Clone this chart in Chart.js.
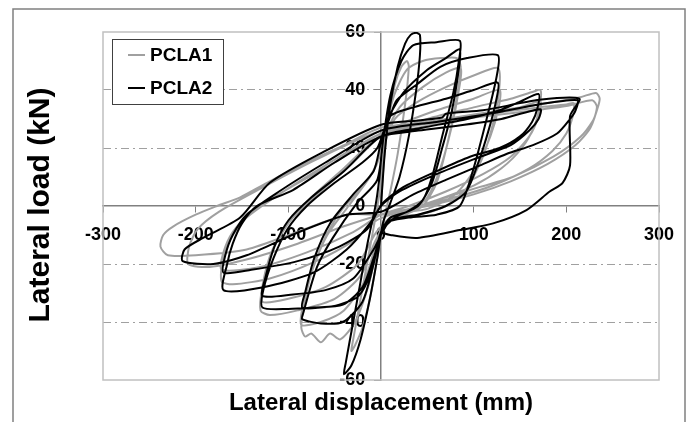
<!DOCTYPE html>
<html>
<head>
<meta charset="utf-8">
<script src="https://cdn.jsdelivr.net/npm/chart.js@4/dist/chart.umd.min.js"></script>
<style>
  html, body { margin: 0; padding: 0; background: #fff; }
  canvas { display: block; }
</style>
</head>
<body>
<canvas id="chart" width="695" height="422"></canvas>
<script>
// Axis ticks
const xTicks = [-300, -200, -100, 0, 100, 200, 300];
const yTicks = [-60, -40, -20, 0, 20, 40, 60];

// PCLA1 (grey) - [displacement mm, load kN]
const pcla1Cycle1 = [[0,0],[3,15],[8,30],[15,42],[22,48],[28,50],[30,48],[26,35],[18,18],[10,5],[3,-5],[-4,-18],[-12,-32],[-20,-42],[-28,-48],[-32,-50],[-30,-46],[-22,-32],[-14,-18],[-6,-4],[0,8]];
const pcla1Cycle2 = [[5,25],[14,38],[28,47],[45,50],[65,51],[82,51],[86,48],[82,38],[72,22],[60,8],[45,0],[25,-3],[8,-5],[-4,-15],[-14,-28],[-28,-40],[-44,-46],[-55,-44],[-65,-47],[-75,-44],[-82,-45],[-86,-42],[-84,-36],[-76,-24],[-62,-12],[-44,-2],[-22,6],[-5,14]];
const pcla1Cycle3 = [[4,24],[20,34],[45,41],[70,46],[86,47.5],[84,40],[76,27],[64,13],[50,3],[30,-2],[10,-4],[-4,-12],[-18,-26],[-40,-36],[-65,-40],[-86,-41],[-84,-34],[-74,-22],[-58,-10],[-35,0],[-12,10],[0,18]];
const pcla1Cycle4 = [[15,30],[40,36],[70,41],[100,45],[126,47.6],[128,42],[122,30],[110,17],[92,6],[70,0],[40,-3],[10,-4],[-6,-12],[-22,-24],[-50,-32],[-90,-36],[-120,-37.6],[-130,-36],[-128,-28],[-118,-16],[-100,-6],[-75,3],[-40,13],[-10,22]];
const pcla1Cycle5 = [[20,28],[60,33],[100,37],[128,40],[127,34],[118,24],[102,13],[80,4],[50,-1],[15,-3],[-5,-9],[-25,-20],[-60,-28],[-100,-32],[-128,-33],[-127,-26],[-117,-15],[-98,-5],[-65,5],[-30,15],[0,24]];
const pcla1Cycle6 = [[50,30],[100,34],[140,37],[165,39.5],[172,40],[172,36],[166,28],[152,20],[130,13],[100,7],[60,2],[20,-2],[-5,-5],[-30,-12],[-70,-19],[-120,-25],[-160,-27],[-172,-26],[-171,-19],[-162,-11],[-145,-4],[-110,4],[-60,14],[0,25]];
const pcla1Cycle7 = [[40,27],[100,31],[150,34],[172,36],[170,31],[160,24],[140,17],[110,11],[70,5],[30,0],[0,-3],[-30,-9],[-80,-16],[-130,-21],[-172,-22],[-170,-16],[-160,-9],[-140,-2],[-100,6],[-50,15],[0,25]];
const pcla1Cycle8 = [[60,29],[120,32],[170,34],[200,35],[208,35.5],[207,31],[200,25],[185,19],[160,13],[120,7],[80,3],[30,-1],[0,-3],[-40,-7],[-90,-13],[-140,-18],[-185,-21],[-208,-20],[-207,-14],[-198,-8],[-175,-2],[-130,6],[-70,16],[0,26]];
const pcla1Cycle9 = [[70,30],[130,33],[180,35.5],[215,37.5],[232,39],[236,37],[233,33],[229,29.6],[215,23.8],[186,17],[142,10],[107,6.6],[60,2],[20,-2],[0,-3],[-37,-3],[-91,-9],[-145,-15],[-200,-17],[-230,-17],[-238,-14],[-235,-10],[-224,-7],[-200,-3],[-177,0],[-152,3],[-123,8],[-80,15],[-40,21],[0,27]];
const pcla1Cycle10 = [[60,29],[140,32],[200,34.5],[228,36.5],[233,34],[226,27],[210,21],[180,14.5],[140,8.5],[100,4],[50,0],[0,-3]];

// PCLA2 (black)
const pcla2Cycle1 = [[0,0],[4,18],[10,35],[18,48],[26,56],[32,59],[38,59.7],[42,59],[42,52],[38,40],[30,24],[20,10],[10,1],[2,-6],[-4,-18],[-12,-32],[-22,-46],[-32,-55],[-40,-58],[-38,-54],[-30,-40],[-22,-26],[-14,-12],[-6,0],[-2,9]];
const pcla2Cycle2 = [[2,22],[10,38],[22,50],[35,55.5],[60,56.5],[85,57],[84,50],[78,39],[66,24],[55,10],[45,2],[28,-2],[10,-4],[0,-9],[-8,-20],[-20,-33],[-41,-40],[-65,-40.5],[-85,-39],[-84,-37],[-69,-21],[-52,-11],[-26,1],[-4,9]];
const pcla2Cycle3 = [[5,28],[24,39],[50,47],[70,51],[85,54],[83,45],[76,32],[66,20],[55,8],[40,0],[15,-4],[0,-9],[-10,-22],[-24,-31],[-45,-34],[-65,-35],[-85,-35],[-82,-30],[-72,-18],[-55,-6],[-30,4],[-8,12]];
const pcla2Cycle4 = [[0,22],[10,31],[17,36.5],[39,42],[64,48],[93,51],[126,52],[125,45],[114,30],[99,12],[85,0],[60,-3],[30,-4],[5,-6],[-8,-18],[-20,-28],[-41,-34],[-73,-35],[-100,-35.5],[-128,-35],[-127,-29],[-116,-18],[-101,-8],[-80,0],[-50,8],[-20,15],[-4,20]];
const pcla2Cycle5 = [[10,31],[35,34],[70,37],[100,40],[126,42.5],[124,36],[116,26],[105,15],[92,5],[70,0],[40,-3],[10,-5],[-8,-15],[-30,-25],[-60,-29],[-95,-30.5],[-128,-31],[-125,-25],[-115,-14],[-100,-5],[-75,3],[-40,12],[0,24]];
const pcla2Cycle6 = [[45,27],[93,30],[128,33],[150,36],[170,38.6],[169,34],[163,29],[150,24],[128,20],[96,17],[60,12],[24,6.5],[2,1],[-12,-6],[-37,-15],[-73,-23],[-127,-28],[-170,-29],[-166,-20],[-160,-13],[-150,-6],[-134,0],[-95,5.5],[-50,15],[0,24]];
const pcla2Cycle7 = [[40,26],[90,28],[130,30],[172,33.4],[170,30],[160,26],[140,21],[107,17],[60,11],[20,5],[0,0],[-15,-8],[-45,-14],[-90,-19],[-140,-22],[-170,-23],[-168,-17],[-160,-10],[-145,-3],[-110,5],[-60,15],[0,26]];
const pcla2Cycle8 = [[60,29],[120,32],[170,35],[212,36.5],[210,33],[204,30],[190,25],[164,21],[136,18],[107,14],[70,9],[35,4],[0,-2],[-37,-3],[-91,-9.3],[-145,-17],[-181,-20],[-214,-19],[-212,-15],[-192,-11],[-152,-4],[-120,8],[-60,19],[0,28],[40,29.5],[66,30.5],[70,31.8],[110,33],[171,36.6],[214,37],[204,31],[204,14],[196,8],[182,5],[157,-1.4],[121,-6],[85,-8.3],[39,-11],[10,-10],[-1,-9]];

const pcla1 = [pcla1Cycle1, pcla1Cycle2, pcla1Cycle3, pcla1Cycle4, pcla1Cycle5, pcla1Cycle6, pcla1Cycle7, pcla1Cycle8, pcla1Cycle9, pcla1Cycle10].flat();
const pcla2 = [pcla2Cycle1, pcla2Cycle2, pcla2Cycle3, pcla2Cycle4, pcla2Cycle5, pcla2Cycle6, pcla2Cycle7, pcla2Cycle8].flat();

const toPoints = arr => arr.map(p => ({ x: p[0], y: p[1] }));
const FONT = '"Liberation Sans", Arial, sans-serif';
const tickFont = { family: FONT, size: 18, weight: 'bold' };

// frames, legend box and axis titles
const decor = {
    id: 'decor',
    beforeDraw(chart) {
        const ctx = chart.ctx;
        ctx.save();
        ctx.fillStyle = '#fff';
        ctx.fillRect(0, 0, chart.width, chart.height);
        ctx.strokeStyle = '#808080';
        ctx.lineWidth = 1.5;
        ctx.beginPath();
        ctx.moveTo(13, chart.height);
        ctx.lineTo(13, 9);
        ctx.lineTo(685, 9);
        ctx.lineTo(685, chart.height);
        ctx.stroke();
        ctx.restore();
    },
    beforeDatasetsDraw(chart) {
        const { ctx, chartArea: a } = chart;
        ctx.save();
        ctx.strokeStyle = '#c0c0c0';
        ctx.lineWidth = 1.5;
        ctx.strokeRect(a.left, a.top, a.right - a.left, a.bottom - a.top);
        ctx.restore();
    },
    afterDraw(chart) {
        const ctx = chart.ctx;
        ctx.save();
        // legend
        ctx.fillStyle = '#fff';
        ctx.fillRect(112, 39, 111, 65);
        ctx.strokeStyle = '#404040';
        ctx.lineWidth = 1;
        ctx.strokeRect(112.5, 39.5, 111, 65);
        const rows = [55, 88];
        chart.data.datasets.forEach((ds, i) => {
            ctx.strokeStyle = ds.borderColor;
            ctx.lineWidth = 2;
            ctx.beginPath();
            ctx.moveTo(128, rows[i]);
            ctx.lineTo(145, rows[i]);
            ctx.stroke();
            ctx.fillStyle = '#000';
            ctx.font = 'bold 19px ' + FONT;
            ctx.textBaseline = 'middle';
            ctx.textAlign = 'left';
            ctx.fillText(ds.label, 150, rows[i] + 1);
        });
        // axis titles
        ctx.fillStyle = '#000';
        ctx.font = 'bold 24px ' + FONT;
        ctx.textAlign = 'center';
        ctx.textBaseline = 'middle';
        ctx.fillText('Lateral displacement (mm)', 381, 403);
        ctx.translate(41, 205);
        ctx.rotate(-Math.PI / 2);
        ctx.font = 'bold 30px ' + FONT;
        ctx.fillText('Lateral load (kN)', 0, 0);
        ctx.restore();
    }
};

new Chart(document.getElementById('chart'), {
    type: 'scatter',
    data: {
        datasets: [
            {
                label: 'PCLA1',
                data: toPoints(pcla1),
                showLine: true,
                borderColor: '#a0a0a0',
                borderWidth: 2,
                pointRadius: 0,
                tension: 0.25,
                order: 1
            },
            {
                label: 'PCLA2',
                data: toPoints(pcla2),
                showLine: true,
                borderColor: '#000000',
                borderWidth: 2,
                pointRadius: 0,
                tension: 0.25,
                order: 0
            }
        ]
    },
    options: {
        responsive: false,
        devicePixelRatio: 1,
        animation: false,
        layout: { padding: { left: 103, top: 32, right: 36, bottom: 42 } },
        plugins: {
            legend: { display: false },
            tooltip: { enabled: false }
        },
        scales: {
            x: {
                type: 'linear',
                min: -300,
                max: 300,
                position: { y: 0 },
                afterBuildTicks: s => { s.ticks = xTicks.map(v => ({ value: v })); },
                grid: { drawOnChartArea: false, tickLength: 6, tickColor: '#808080' },
                border: { color: '#808080', width: 1.5 },
                ticks: { color: '#000', padding: 12, font: tickFont }
            },
            y: {
                type: 'linear',
                min: -60,
                max: 60,
                position: { x: 0 },
                afterBuildTicks: s => { s.ticks = yTicks.map(v => ({ value: v })); },
                grid: {
                    color: c => (c.tick && Math.abs(c.tick.value) % 60 === 0) ? 'rgba(0,0,0,0)' : '#a0a0a0',
                    lineWidth: 1,
                    tickLength: 6,
                    tickColor: '#808080'
                },
                border: { color: '#808080', width: 1.5, dash: [8, 4, 2, 4] },
                ticks: { display: false }
            },
            // labels of the load axis, set just left of the tick marks
            yLabels: {
                axis: 'y',
                type: 'linear',
                min: -60,
                max: 60,
                position: { x: -17 },
                afterBuildTicks: s => { s.ticks = yTicks.map(v => ({ value: v })); },
                grid: { display: false },
                border: { display: false },
                ticks: { color: '#000', font: tickFont }
            }
        }
    },
    plugins: [decor]
});
</script>
</body>
</html>
